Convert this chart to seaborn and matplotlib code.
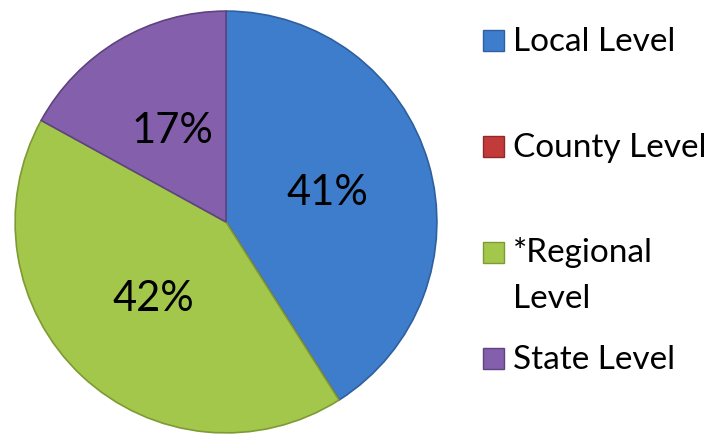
import matplotlib
matplotlib.use("Agg")
import matplotlib.pyplot as plt
from matplotlib.patches import Rectangle
import seaborn as sns

categories = ["Local Level", "County Level", "*Regional\nLevel", "State Level"]
shares = [41, 0, 42, 17]
colors = ["#3e7dcc", "#c23b3a", "#a3c74a", "#8460ac"]
edge_colors = ["#2f5f9e", "#8f2a2a", "#7d9a35", "#5f4280"]

sns.set_theme(style="white")
plt.rcParams["font.family"] = ["Lato", "DejaVu Sans"]

W, H = 711, 436
fig = plt.figure(figsize=(W / 100, H / 100), dpi=100)
ax = fig.add_axes([13 / W, 1 / H, 426 / W, 426 / H])

wedges, texts, autotexts = ax.pie(
    shares, colors=colors, startangle=90, counterclock=False, radius=1,
    autopct=lambda p: f"{p:.0f}%" if p > 0 else "", pctdistance=0.5,
    textprops={"fontsize": 30, "color": "black"},
    wedgeprops={"linewidth": 1.2},
)
for w, ec in zip(wedges, edge_colors):
    w.set_edgecolor(ec)
ax.set_xlim(-1.01, 1.01)
ax.set_ylim(-1.01, 1.01)
ax.set_aspect("equal")

# legend laid out like the original (fixed slots, marker on first line)
row_y = [40, 146, 252, 358]
line_px = 45
for lab, c, ec, y in zip(categories, colors, edge_colors, row_y):
    fig.add_artist(Rectangle((483 / W, 1 - (y + 10.5) / H), 21 / W, 21 / H,
                             facecolor=c, edgecolor=ec, linewidth=1,
                             transform=fig.transFigure))
    # baseline of a multi-line text is its last line
    base = y + 11 + line_px * lab.count("\n")
    fig.text(513 / W, 1 - base / H, lab, fontsize=24, color="black",
             va="baseline", ha="left", linespacing=1.65)

fig.savefig("out.png", dpi=100)
